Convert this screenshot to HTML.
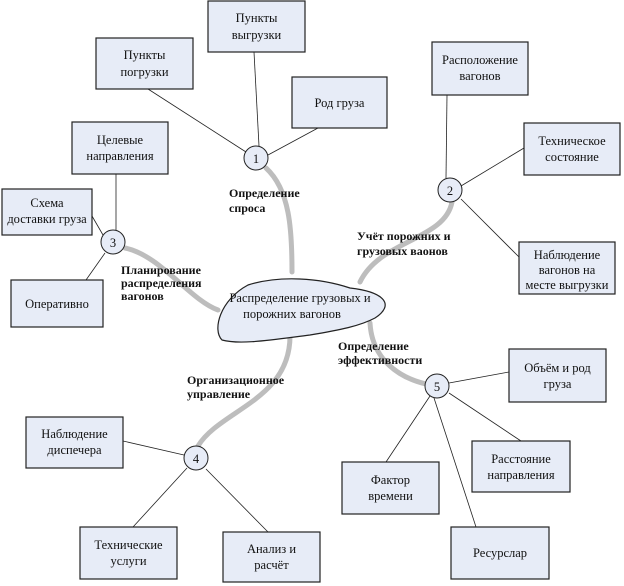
<!DOCTYPE html>
<html><head><meta charset="utf-8"><style>
html,body{margin:0;padding:0;background:#fff}
svg{display:block;font-family:"Liberation Serif","DejaVu Serif","Noto Serif CJK SC",serif}
text{font-family:"Liberation Serif","DejaVu Serif","Noto Serif CJK SC",serif;font-size:12.5px;fill:#111}
.b{font-weight:bold;font-size:12px}
rect{fill:#e7ecf7;stroke:#222;stroke-width:1.2}
circle{fill:#e7ecf7;stroke:#222;stroke-width:1}
.t{stroke:#bdbdbd;stroke-width:5;fill:none;stroke-linecap:round}
.l{stroke:#222;stroke-width:0.8;fill:none}
</style></head><body>
<svg width="624" height="586" viewBox="0 0 624 586" xmlns="http://www.w3.org/2000/svg" font-family="Liberation Serif, DejaVu Serif, serif">
<path class="t" d="M266,168 C290,190 292,230 292,272"/>
<path class="t" d="M452,202 C445,240 380,240 360,282"/>
<path class="t" d="M125,248 C160,255 190,300 218,310"/>
<path class="t" d="M290,336 C290,400 220,410 198,446"/>
<path class="t" d="M370,323 C372,360 400,378 426,384"/>
<path class="l" d="M148,89 L246,152"/>
<path class="l" d="M254,52 L259,146"/>
<path class="l" d="M268,155 L318,128"/>
<path class="l" d="M447,95 L446,178"/>
<path class="l" d="M461,186 L524,148"/>
<path class="l" d="M461,199 L519,257"/>
<path class="l" d="M116,174 L116,230"/>
<path class="l" d="M92,216 L103,235"/>
<path class="l" d="M105,253 L86,280"/>
<path class="l" d="M123,441 L184,455"/>
<path class="l" d="M187,468 L133,527"/>
<path class="l" d="M206,469 L268,532"/>
<path class="l" d="M449,383 L509,372"/>
<path class="l" d="M449,393 L521,441"/>
<path class="l" d="M430,396 L386,462"/>
<path class="l" d="M434,398 L476,527"/>
<path d="M248,285 C280,275 320,278 350,288 C385,292 395,305 375,318 C360,326 340,330 310,335 C270,340 240,345 222,340 C212,330 220,300 248,285 Z" fill="#e7ecf7" stroke="#222" stroke-width="1.2"/>
<text x="300" y="302" text-anchor="middle">Распределение грузовых и</text>
<text x="292" y="318" text-anchor="middle">порожних вагонов</text>
<rect x="96" y="38" width="97" height="51"/><text x="144.5" y="59" text-anchor="middle">Пункты</text><text x="144.5" y="76" text-anchor="middle">погрузки</text>
<rect x="208" y="1" width="97" height="51"/><text x="256.5" y="22" text-anchor="middle">Пункты</text><text x="256.5" y="39" text-anchor="middle">выгрузки</text>
<rect x="292" y="77" width="95" height="51"/><text x="339.5" y="107" text-anchor="middle">Род груза</text>
<rect x="72" y="122" width="96" height="52"/><text x="120" y="144" text-anchor="middle">Целевые</text><text x="120" y="160" text-anchor="middle">направления</text>
<rect x="2" y="189" width="90" height="46"/><text x="47" y="207" text-anchor="middle">Схема</text><text x="47" y="223" text-anchor="middle">доставки груза</text>
<rect x="11" y="280" width="92" height="47"/><text x="57" y="308" text-anchor="middle">Оперативно</text>
<rect x="432" y="42" width="96" height="53"/><text x="480" y="64" text-anchor="middle">Расположение</text><text x="480" y="80" text-anchor="middle">вагонов</text>
<rect x="524" y="123" width="96" height="52"/><text x="572" y="145" text-anchor="middle">Техническое</text><text x="572" y="161" text-anchor="middle">состояние</text>
<rect x="519" y="242" width="96" height="52"/><text x="567" y="259" text-anchor="middle">Наблюдение</text><text x="567" y="274" text-anchor="middle">вагонов на</text><text x="567" y="289" text-anchor="middle">месте выгрузки</text>
<rect x="509" y="349" width="97" height="53"/><text x="557.5" y="372" text-anchor="middle">Объём и род</text><text x="557.5" y="388" text-anchor="middle">груза</text>
<rect x="472" y="441" width="98" height="51"/><text x="521" y="463" text-anchor="middle">Расстояние</text><text x="521" y="479" text-anchor="middle">направления</text>
<rect x="342" y="462" width="97" height="52"/><text x="390.5" y="484" text-anchor="middle">Фактор</text><text x="390.5" y="500" text-anchor="middle">времени</text>
<rect x="451" y="527" width="98" height="52"/><text x="500" y="557" text-anchor="middle">Ресурслар</text>
<rect x="26" y="417" width="97" height="51"/><text x="74.5" y="438" text-anchor="middle">Наблюдение</text><text x="74.5" y="454" text-anchor="middle">диспечера</text>
<rect x="80" y="527" width="97" height="52"/><text x="128.5" y="549" text-anchor="middle">Технические</text><text x="128.5" y="565" text-anchor="middle">услуги</text>
<rect x="223" y="532" width="97" height="50"/><text x="271.5" y="553" text-anchor="middle">Анализ и</text><text x="271.5" y="569" text-anchor="middle">расчёт</text>
<circle cx="256" cy="158" r="12"/><text x="256" y="163" text-anchor="middle">1</text>
<circle cx="450" cy="190" r="12"/><text x="450" y="195" text-anchor="middle">2</text>
<circle cx="113" cy="242" r="12"/><text x="113" y="247" text-anchor="middle">3</text>
<circle cx="196" cy="458" r="12"/><text x="196" y="463" text-anchor="middle">4</text>
<circle cx="437" cy="386" r="12"/><text x="437" y="391" text-anchor="middle">5</text>
<text class="b" x="229" y="197">Определение</text><text class="b" x="229" y="212">спроса</text>
<text class="b" x="357" y="240">Учёт порожних и</text><text class="b" x="357" y="255">грузовых ваонов</text>
<text class="b" x="121" y="274">Планирование</text><text class="b" x="121" y="287">распределения</text><text class="b" x="121" y="300">вагонов</text>
<text class="b" x="338" y="350">Определение</text><text class="b" x="338" y="364">эффективности</text>
<text class="b" x="187" y="384">Организационное</text><text class="b" x="187" y="398">управление</text>
</svg>
</body></html>
